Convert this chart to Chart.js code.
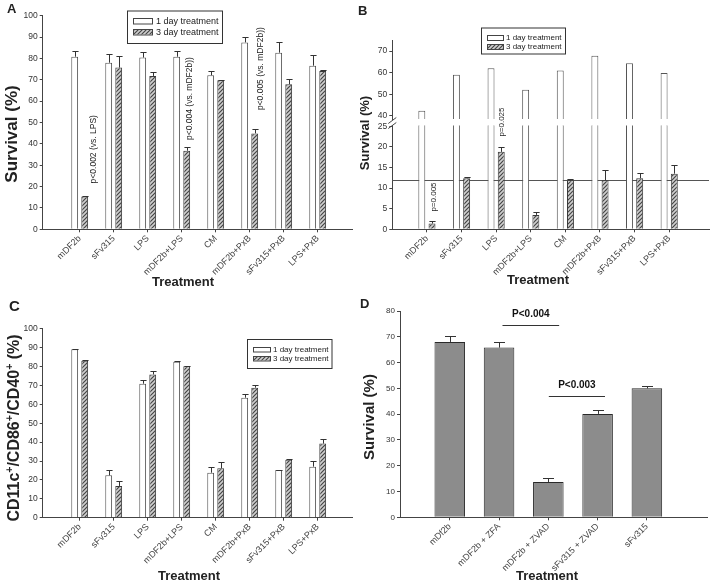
<!DOCTYPE html>
<html>
<head>
<meta charset="utf-8">
<script src="https://cdn.jsdelivr.net/npm/chart.js@4.4.1/dist/chart.umd.min.js"></script>
<style>
  body { margin: 0; background: #fff; font-family: "Liberation Sans", Arial, sans-serif; }
  #fig { position: relative; width: 713px; height: 587px; overflow: hidden; }
  canvas { position: absolute; }
  .tag { position: absolute; font-weight: bold; font-size: 13px; line-height: 13px; color: #222; }
  .xt, .yt { position: absolute; font-weight: bold; color: #222; text-align: center; white-space: nowrap;
             width: 260px; height: 20px; line-height: 20px; margin-left: -130px; margin-top: -10px; }
  .yt { transform: rotate(-90deg); }
  .yt sup { font-size: 0.65em; line-height: 0; }
</style>
</head>
<body>
<div id="fig">
  <canvas id="chartA" width="356" height="290" style="left:0;top:0"></canvas>
  <canvas id="chartB1" width="357" height="290" style="left:356px;top:0"></canvas>
  <canvas id="chartB2" width="357" height="290" style="left:356px;top:0"></canvas>
  <canvas id="chartC" width="356" height="297" style="left:0;top:290px"></canvas>
  <canvas id="chartD" width="357" height="297" style="left:356px;top:290px"></canvas>

  <div class="tag" style="left:7px;top:2px">A</div>
  <div class="tag" style="left:358px;top:4px">B</div>
  <div class="tag" style="left:9px;top:298px;font-size:15px;line-height:15px">C</div>
  <div class="tag" style="left:360px;top:297px">D</div>

  <div class="yt" style="left:12px;top:134px;font-size:17px">Survival (%)</div>
  <div class="xt" style="left:183px;top:282px;font-size:13px">Treatment</div>
  <div class="yt" style="left:365px;top:133px;font-size:13px">Survival (%)</div>
  <div class="xt" style="left:538px;top:280px;font-size:13px">Treatment</div>
  <div class="yt" style="left:14px;top:428px;font-size:16px">CD11c<sup>+</sup>/CD86<sup>+</sup>/CD40<sup>+</sup> (%)</div>
  <div class="xt" style="left:189px;top:576px;font-size:13px">Treatment</div>
  <div class="yt" style="left:369px;top:417px;font-size:15px">Survival (%)</div>
  <div class="xt" style="left:547px;top:576px;font-size:13px">Treatment</div>
</div>

<script>
// ---- data ----
const treatments = ['mDF2b', 'sFv315', 'LPS', 'mDF2b+LPS', 'CM', 'mDF2b+PxB', 'sFv315+PxB', 'LPS+PxB'];
const seriesNames = ['1 day treatment', '3 day treatment'];

// A: survival
const aDay1 = [80.8, 78.0, 80.4, 80.8, 72.1, 87.5, 82.7, 76.6];
const aDay1Err = [2.8, 3.9, 2.5, 2.8, 1.9, 2.7, 4.8, 5.2];
const aDay3 = [15.3, 75.7, 71.8, 36.8, 69.8, 44.9, 67.9, 74.1];
const aDay3Err = [0.3, 5.3, 1.7, 1.6, 0.3, 1.9, 2.6, 0.3];
const aTicks = [0, 10, 20, 30, 40, 50, 60, 70, 80, 90, 100];
const aNotes = ['p<0.002 (vs. LPS)', 'p<0.004 (vs. mDF2b))', 'p<0.005 (vs. mDF2b))'];
const aNoteX = [0.40, 3.24, 5.32];
const aNoteY = [21.5, 41.8, 55.8];

// B: survival, broken axis
const bDay1 = [42.3, 59.0, 62.0, 52.1, 61.0, 67.8, 64.3, 59.8];
const bDay3 = [1.4, 12.4, 18.8, 3.5, 11.9, 11.9, 12.4, 13.5];
const bDay3Err = [0.6, 0.2, 1.1, 0.7, 0.2, 2.6, 1.2, 2.1];
const bUpperTicks = [40, 50, 60, 70];
const bLowerTicks = [0, 5, 10, 15, 20, 25];
const bRefLevel = 12;
const bNotes = ['p=0.005', 'p=0.025'];
const bNoteX = [0.19, 2.16];
const bNoteY = [4.3, 22.5];

// C: CD11c+/CD86+/CD40+
const cDay1 = [89.1, 22.4, 70.9, 82.5, 23.8, 63.5, 25.2, 27.0];
const cDay1Err = [0.3, 2.8, 1.9, 0.3, 3.0, 1.8, 0.3, 2.8];
const cDay3 = [83.1, 16.8, 75.8, 80.1, 26.1, 68.8, 30.7, 39.2];
const cDay3Err = [0.3, 2.6, 2.0, 0.3, 3.2, 1.6, 0.3, 2.3];
const cTicks = [0, 10, 20, 30, 40, 50, 60, 70, 80, 90, 100];

// D: caspase inhibitor
const dGroups = ['mDf2b', 'mDF2b + ZFA', 'mDF2b + ZVAD', 'sFv315 + ZVAD', 'sFv315'];
const dSurvival = [68.0, 65.8, 13.7, 40.1, 50.0];
const dErr = [2.4, 2.1, 1.4, 1.4, 0.8];
const dTicks = [0, 10, 20, 30, 40, 50, 60, 70, 80];
const dSigLabels = ['P<0.004', 'P<0.003'];
const dSigFrom = [1.07, 2.01];
const dSigTo = [2.22, 3.15];
const dSigLevel = [74.6, 46.9];

// ---- setup ----
const FONT = '"Liberation Sans", Arial, sans-serif';
Chart.defaults.font.family = FONT;
Chart.defaults.color = '#333';
Chart.defaults.animation = false;
Chart.defaults.plugins.legend.display = false;
Chart.defaults.plugins.tooltip.enabled = false;

function hatch() {
    const c = document.createElement('canvas');
    c.width = 4; c.height = 4;
    const g = c.getContext('2d');
    g.fillStyle = '#cfcfcf';
    g.fillRect(0, 0, 4, 4);
    g.strokeStyle = '#454545';
    g.lineWidth = 1.2;
    g.beginPath();
    g.moveTo(0, 4); g.lineTo(4, 0);
    g.moveTo(-1, 1); g.lineTo(1, -1);
    g.moveTo(3, 5); g.lineTo(5, 3);
    g.stroke();
    return g.createPattern(c, 'repeat');
}

function pts(vals) {
    return vals.map((v, i) => ({ x: i, y: v }));
}

function xAxis(labels, min, max, height, show) {
    return {
        type: 'linear', min: min, max: max, offset: false, display: show,
        afterBuildTicks: s => { s.ticks = labels.map((_, i) => ({ value: i })); },
        afterFit: s => { s.height = height; },
        grid: { drawOnChartArea: false, offset: false, tickLength: 3, color: '#444' },
        border: { color: '#444' },
        ticks: { callback: v => labels[v], minRotation: 45, maxRotation: 45, autoSkip: false,
                 padding: 1, font: { size: 9 }, color: '#444' }
    };
}

function yAxis(tickVals, min, max, width, size) {
    return {
        min: min, max: max,
        afterBuildTicks: s => { s.ticks = tickVals.map(v => ({ value: v })); },
        afterFit: s => { s.width = width; },
        grid: { drawOnChartArea: false, tickLength: 3, color: '#444' },
        border: { color: '#444' },
        ticks: { padding: 2, font: { size: size }, color: '#333' }
    };
}

const errorBars = {
    id: 'errorBars',
    afterDatasetsDraw(chart) {
        const ctx = chart.ctx;
        const ys = chart.scales.y;
        chart.data.datasets.forEach((ds, i) => {
            if (!ds.errors) return;
            chart.getDatasetMeta(i).data.forEach((bar, j) => {
                const err = ds.errors[j];
                if (!err) return;
                const x = Math.round(bar.x) + 0.5;
                const top = Math.round(ys.getPixelForValue(ds.data[j].y + err)) + 0.5;
                const half = Math.min(bar.width * 0.45, 5.5);
                ctx.save();
                ctx.strokeStyle = '#333';
                ctx.lineWidth = 1;
                ctx.beginPath();
                ctx.moveTo(x, bar.y);
                ctx.lineTo(x, top);
                ctx.moveTo(x - half, top);
                ctx.lineTo(x + half, top);
                ctx.stroke();
                ctx.restore();
            });
        });
    }
};

function noteLayer(texts, xv, yv, size) {
    return {
        id: 'notes',
        afterDatasetsDraw(chart) {
            const { ctx, scales: { x, y } } = chart;
            ctx.save();
            ctx.font = size + 'px ' + FONT;
            ctx.fillStyle = '#222';
            ctx.textAlign = 'left';
            ctx.textBaseline = 'middle';
            texts.forEach((t, i) => {
                ctx.save();
                ctx.translate(x.getPixelForValue(xv[i]), y.getPixelForValue(yv[i]));
                ctx.rotate(-Math.PI / 2);
                ctx.fillText(t, 0, 0);
                ctx.restore();
            });
            ctx.restore();
        }
    };
}

function frameLegend(b) {
    return {
        id: 'frameLegend',
        afterDraw(chart) {
            const ctx = chart.ctx;
            ctx.save();
            ctx.fillStyle = '#fff';
            ctx.fillRect(b.x, b.y, b.w, b.h);
            ctx.strokeStyle = '#333';
            ctx.lineWidth = 1;
            ctx.strokeRect(b.x + 0.5, b.y + 0.5, b.w, b.h);
            ctx.font = b.size + 'px ' + FONT;
            ctx.textBaseline = 'middle';
            chart.data.datasets.forEach((ds, i) => {
                const cy = Math.round(b.y + b.rows[i]);
                const sy = Math.round(cy - b.sh / 2);
                ctx.fillStyle = ds.backgroundColor;
                ctx.fillRect(b.x + b.sx, sy, b.sw, b.sh);
                ctx.strokeStyle = '#444';
                ctx.strokeRect(b.x + b.sx + 0.5, sy + 0.5, b.sw, b.sh);
                ctx.fillStyle = '#222';
                ctx.fillText(ds.label, b.x + b.tx, cy + 0.5);
            });
            ctx.restore();
        }
    };
}

function refLine(value) {
    return {
        id: 'refLine',
        beforeDatasetsDraw(chart) {
            const { ctx, chartArea: a, scales: { y } } = chart;
            const py = Math.round(y.getPixelForValue(value)) + 0.5;
            ctx.save();
            ctx.strokeStyle = '#555';
            ctx.lineWidth = 1.2;
            ctx.beginPath();
            ctx.moveTo(a.left, py);
            ctx.lineTo(a.right, py);
            ctx.stroke();
            ctx.restore();
        }
    };
}

const axisBreak = {
    id: 'axisBreak',
    afterDraw(chart) {
        const { ctx, chartArea: a } = chart;
        ctx.save();
        ctx.strokeStyle = '#444';
        ctx.lineWidth = 1;
        ctx.beginPath();
        ctx.moveTo(a.left - 4, a.top + 3); ctx.lineTo(a.left + 4, a.top - 3);
        ctx.moveTo(a.left - 4, a.top - 2); ctx.lineTo(a.left + 4, a.top - 8);
        ctx.stroke();
        ctx.restore();
    }
};

function sigBars(labels, from, to, level) {
    return {
        id: 'sigBars',
        afterDatasetsDraw(chart) {
            const { ctx, scales: { x, y } } = chart;
            ctx.save();
            labels.forEach((t, i) => {
                const x1 = x.getPixelForValue(from[i]);
                const x2 = x.getPixelForValue(to[i]);
                const py = Math.round(y.getPixelForValue(level[i])) + 0.5;
                ctx.strokeStyle = '#333';
                ctx.lineWidth = 1;
                ctx.beginPath();
                ctx.moveTo(x1, py);
                ctx.lineTo(x2, py);
                ctx.stroke();
                ctx.fillStyle = '#111';
                ctx.font = 'bold 10px ' + FONT;
                ctx.textAlign = 'center';
                ctx.textBaseline = 'middle';
                ctx.fillText(t, (x1 + x2) / 2, py - 11);
            });
            ctx.restore();
        }
    };
}

function pairSets(day1, day1Err, day3, day3Err, extra) {
    return [
        Object.assign({ label: seriesNames[0], data: pts(day1), errors: day1Err,
            backgroundColor: '#fff', borderColor: '#555', borderWidth: 1,
            categoryPercentage: 0.59, barPercentage: 0.68 }, extra),
        Object.assign({ label: seriesNames[1], data: pts(day3), errors: day3Err,
            backgroundColor: hatch(), borderColor: '#3a3a3a', borderWidth: 1,
            categoryPercentage: 0.59, barPercentage: 0.68 }, extra)
    ];
}

// ---- A ----
new Chart(document.getElementById('chartA'), {
    type: 'bar',
    data: { datasets: pairSets(aDay1, aDay1Err, aDay3, aDay3Err, {}) },
    options: {
        responsive: false,
        layout: { padding: { top: 15.7, right: 3.3, left: 0, bottom: 0 } },
        scales: {
            x: xAxis(treatments, -1.088, 8.03, 60.7, true),
            y: yAxis(aTicks, 0, 100, 42.7, 8.5)
        }
    },
    plugins: [errorBars, noteLayer(aNotes, aNoteX, aNoteY, 8.5),
        frameLegend({ x: 127, y: 10.5, w: 95, h: 32.5, sx: 6, sw: 19, sh: 5.5, tx: 29, rows: [10.7, 21.3], size: 9 })]
});

// ---- B (upper part of broken axis) ----
new Chart(document.getElementById('chartB1'), {
    type: 'bar',
    data: { datasets: pairSets(bDay1, null, bDay3, null, { clip: 0 }) },
    options: {
        responsive: false,
        layout: { padding: { top: 40.7, right: 4, left: 0, bottom: 171 } },
        scales: {
            x: xAxis(treatments, -1.0, 8.15, 0, false),
            y: yAxis(bUpperTicks, 38.5, 74.8, 36.3, 8.5)
        }
    },
    plugins: [frameLegend({ x: 125, y: 27.5, w: 84, h: 26, sx: 6, sw: 16, sh: 5, tx: 25, rows: [9.4, 18.7], size: 8 })]
});

// ---- B (lower part) ----
new Chart(document.getElementById('chartB2'), {
    type: 'bar',
    data: { datasets: pairSets(bDay1, null, bDay3, bDay3Err, { clip: 0 }) },
    options: {
        responsive: false,
        layout: { padding: { top: 125.5, right: 4, left: 0, bottom: 0 } },
        scales: {
            x: xAxis(treatments, -1.0, 8.15, 60.7, true),
            y: yAxis(bLowerTicks, 0, 25.2, 36.3, 8.5)
        }
    },
    plugins: [refLine(bRefLevel), errorBars, axisBreak, noteLayer(bNotes, bNoteX, bNoteY, 8)]
});

// ---- C ----
new Chart(document.getElementById('chartC'), {
    type: 'bar',
    data: { datasets: pairSets(cDay1, cDay1Err, cDay3, cDay3Err, {}) },
    options: {
        responsive: false,
        layout: { padding: { top: 38.7, right: 3.3, left: 0, bottom: 0 } },
        scales: {
            x: xAxis(treatments, -1.088, 8.03, 69.3, true),
            y: yAxis(cTicks, 0, 100, 42.7, 8.5)
        }
    },
    plugins: [errorBars,
        frameLegend({ x: 247, y: 49, w: 84.5, h: 29, sx: 6, sw: 17, sh: 4.5, tx: 26, rows: [10.3, 19.3], size: 8 })]
});

// ---- D ----
new Chart(document.getElementById('chartD'), {
    type: 'bar',
    data: {
        datasets: [{
            label: 'Survival',
            data: pts(dSurvival),
            errors: dErr,
            backgroundColor: '#8c8c8c',
            borderColor: '#2a2a2a',
            borderWidth: 1,
            categoryPercentage: 1,
            barPercentage: 0.62
        }]
    },
    options: {
        responsive: false,
        layout: { padding: { top: 21, right: 6, left: 0, bottom: 0 } },
        scales: {
            x: xAxis(dGroups, -1.01, 5.22, 69.7, true),
            y: yAxis(dTicks, 0, 80, 44, 8)
        }
    },
    plugins: [errorBars, sigBars(dSigLabels, dSigFrom, dSigTo, dSigLevel)]
});
</script>
</body>
</html>
